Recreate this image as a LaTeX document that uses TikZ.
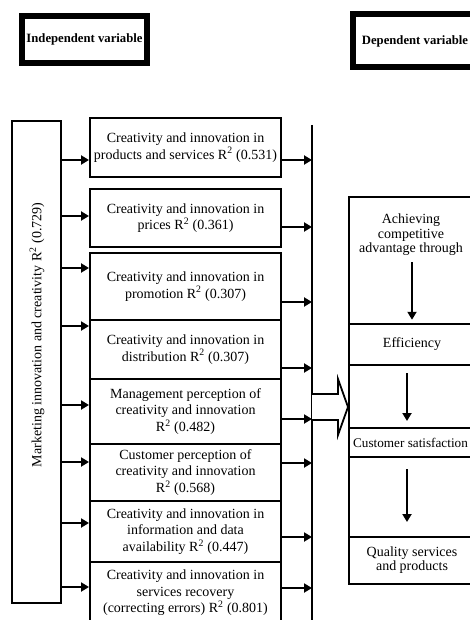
\documentclass[tikz,border=0pt]{standalone}
\usepackage{fontspec}
\setmainfont{Liberation Serif}
\usetikzlibrary{arrows.meta}

\begin{document}
\begin{tikzpicture}[x=1pt, y=-1pt,
  every node/.style={inner sep=0pt, align=center, font=\fontsize{14}{16.5}\selectfont},
  headbox/.style={draw, line width=6pt, font=\bfseries\fontsize{12.7}{15}\selectfont},
  midbox/.style={draw, line width=2pt, minimum width=191},
  band/.style={draw, line width=2pt, minimum width=126},
  deptext/.style={font=\fontsize{14}{14.5}\selectfont},
  arr/.style={line width=2pt, -{Triangle[length=8pt,width=9pt]}},
  hollow/.style={line width=1.8pt, fill=white, line join=miter}]
\useasboundingbox (0,0) rectangle (470,620);

% headers
\node[headbox, minimum width=125, minimum height=47] (indep) at (84.5,39.5) {Independent variable};
\node[headbox, minimum width=124, minimum height=53] (dep) at (415,41) {Dependent variable};

% left block
\node[draw, line width=2pt, minimum width=49, minimum height=482] (mkt) at (36.5,362) {};
\node[rotate=90] (mktlabel) at (37,335) {Marketing innovation and creativity R\textsuperscript{2} (0.729)};

% middle boxes
\node[midbox, minimum height=59] (prod) at (185.5,147.5) {Creativity and innovation in\\products and services R\textsuperscript{2} (0.531)};
\node[midbox, minimum height=58] (price) at (185.5,218) {Creativity and innovation in\\prices R\textsuperscript{2} (0.361)};
\node[midbox, minimum height=67] (promo) at (185.5,286.5) {Creativity and innovation in\\promotion R\textsuperscript{2} (0.307)};
\node[midbox, minimum height=59] (distr) at (185.5,349.5) {Creativity and innovation in\\distribution R\textsuperscript{2} (0.307)};
\node[midbox, minimum height=65] (mgmt) at (185.5,411.5) {Management perception of\\creativity and innovation\\R\textsuperscript{2} (0.482)};
\node[midbox, minimum height=57] (cust) at (185.5,472.5) {Customer perception of\\creativity and innovation\\R\textsuperscript{2} (0.568)};
\node[midbox, minimum height=61] (info) at (185.5,531.5) {Creativity and innovation in\\information and data\\availability R\textsuperscript{2} (0.447)};
\node[midbox, minimum height=62] (recov) at (185.5,593) {Creativity and innovation in\\services recovery\\(correcting errors) R\textsuperscript{2} (0.801)};

% collecting line
\coordinate (bustop) at (312,125);
\coordinate (busbot) at (312,630);
\draw[line width=2pt] (bustop) -- (busbot);

% left block to boxes
\draw[arr] (mkt.east |- 0,160) -- (prod.west |- 0,160);
\draw[arr] (mkt.east |- 0,216) -- (price.west |- 0,216);
\draw[arr] (mkt.east |- 0,268) -- (promo.west |- 0,268);
\draw[arr] (mkt.east |- 0,326) -- (distr.west |- 0,326);
\draw[arr] (mkt.east |- 0,405) -- (mgmt.west |- 0,405);
\draw[arr] (mkt.east |- 0,462) -- (cust.west |- 0,462);
\draw[arr] (mkt.east |- 0,523) -- (info.west |- 0,523);
\draw[arr] (mkt.east |- 0,587) -- (recov.west |- 0,587);

% boxes to collecting line
\draw[arr] (prod.east |- 0,160) -- (bustop |- 0,160);
\draw[arr] (price.east |- 0,227) -- (bustop |- 0,227);
\draw[arr] (promo.east |- 0,302) -- (bustop |- 0,302);
\draw[arr] (distr.east |- 0,368) -- (bustop |- 0,368);
\draw[arr] (mgmt.east |- 0,419) -- (bustop |- 0,419);
\draw[arr] (cust.east |- 0,463) -- (bustop |- 0,463);
\draw[arr] (info.east |- 0,537) -- (bustop |- 0,537);
\draw[arr] (recov.east |- 0,588) -- (bustop |- 0,588);

% dependent block
\node[draw, line width=2pt, minimum width=126, minimum height=387] (depblk) at (412,390.5) {};
\node[band, minimum height=41, line width=2.5pt] (eff) at (412,344.5) {Efficiency};
\node[band, minimum height=29] (csat) at (412,442.5) {};
\node (csattext) at (410.5,443) {\fontsize{13.2}{15}\selectfont Customer satisfaction};
\node[band, minimum height=47] (qual) at (412,560.5) {};
\node[deptext] (achv) at (411,235) {Achieving\\competitive\\advantage through};
\node[deptext] (qualtext) at (412,560) {Quality services\\and products};

\draw[arr, shorten <=6pt, shorten >=3pt] ([xshift=1pt]achv.south) -- ([xshift=1pt]achv.south |- eff.north);
\draw[arr, shorten <=7pt, shorten >=6pt] ([xshift=-5pt]eff.south) -- ([xshift=-5pt]csat.north);
\draw[arr, shorten <=11pt, shorten >=14pt] ([xshift=-5pt]csat.south) -- ([xshift=-5pt]qual.north);

% hollow arrow into dependent block
\coordinate (hol) at (312,407);
\draw[hollow] (hol |- 0,394) -- (338,394) -- (338,379) -- (depblk.west |- hol) -- (338,435) -- (338,420) -- (hol |- 0,420);

\end{tikzpicture}
\end{document}
